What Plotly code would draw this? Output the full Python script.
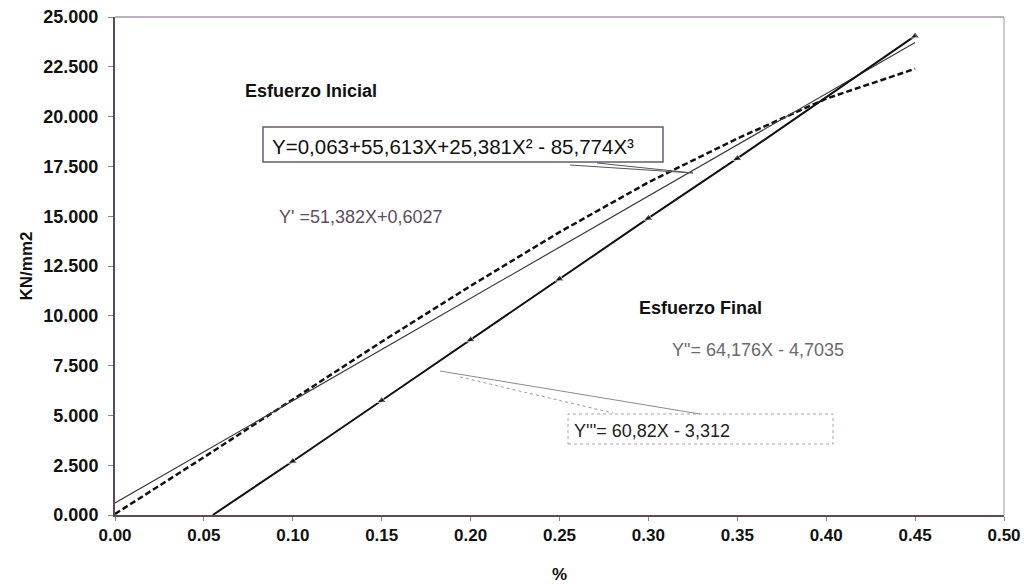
import plotly.graph_objects as go

# ---- data ----
final_x = [0.055, 0.10, 0.15, 0.20, 0.25, 0.30, 0.35, 0.45]
final_y = [0.0, 2.70, 5.75, 8.80, 11.85, 14.90, 17.90, 24.05]

initial_x = [0.00, 0.05, 0.10, 0.15, 0.20, 0.25, 0.30, 0.35, 0.40, 0.45]
initial_y = [0.05, 2.90, 5.80, 8.70, 11.50, 14.20, 16.70, 18.90, 20.90, 22.40]

lin_x = [0.00, 0.45]
lin_y = [0.60, 23.72]

x_ticks = [0.00, 0.05, 0.10, 0.15, 0.20, 0.25, 0.30, 0.35, 0.40, 0.45, 0.50]
y_ticks = [0, 2.5, 5, 7.5, 10, 12.5, 15, 17.5, 20, 22.5, 25]

FONT = "Arial, Liberation Sans, sans-serif"
W, H = 1024, 584
L, R, T, B = 115, 20, 17, 69
PW, PH = W - L - R, H - T - B


def px(x):
    return (x - L) / PW


def py(y):
    return (H - B - y) / PH


fig = go.Figure()

fig.add_trace(go.Scatter(
    x=initial_x, y=initial_y, mode="lines",
    line=dict(color="#111111", width=2.5, dash="6px,3px"),
    showlegend=False))
fig.add_trace(go.Scatter(
    x=lin_x, y=lin_y, mode="lines",
    line=dict(color="#3a3a3a", width=1.2),
    showlegend=False))
fig.add_trace(go.Scatter(
    x=final_x, y=final_y, mode="lines+markers",
    line=dict(color="#111111", width=2),
    marker=dict(symbol="triangle-up", size=[0] + [8] * (len(final_x) - 1),
                color="#111111"),
    showlegend=False))

shapes = []
# plot frame top/right
shapes.append(dict(type="line", xref="paper", yref="paper", x0=0, x1=1, y0=1, y1=1,
                   line=dict(color="#7a6a7a", width=1.2)))
shapes.append(dict(type="line", xref="paper", yref="paper", x0=1, x1=1, y0=0, y1=1,
                   line=dict(color="#9a9a9a", width=1)))
# cubic equation box
shapes.append(dict(type="rect", xref="paper", yref="paper",
                   x0=px(263), x1=px(663), y0=py(162), y1=py(127),
                   line=dict(color="#6a5a6a", width=1.5)))
# its callout pointer
shapes.append(dict(type="line", xref="paper", yref="paper",
                   x0=px(570), y0=py(165), x1=px(693), y1=py(173),
                   line=dict(color="#555555", width=1)))
shapes.append(dict(type="line", xref="paper", yref="paper",
                   x0=px(597), y0=py(163), x1=px(693), y1=py(173),
                   line=dict(color="#555555", width=1)))
# final equation box (faint dashed)
shapes.append(dict(type="rect", xref="paper", yref="paper",
                   x0=px(568), x1=px(833), y0=py(444), y1=py(414),
                   line=dict(color="#b0a0b0", width=1, dash="dot")))
# its callout pointer
shapes.append(dict(type="line", xref="paper", yref="paper",
                   x0=px(440), y0=py(371), x1=px(700), y1=py(414),
                   line=dict(color="#8a8a8a", width=1)))
shapes.append(dict(type="line", xref="paper", yref="paper",
                   x0=px(460), y0=py(377), x1=px(613), y1=py(413),
                   line=dict(color="#9a9a9a", width=1, dash="dot")))

annotations = [
    dict(text="<b>Esfuerzo Inicial</b>", x=px(243), y=py(91), xanchor="left",
         font=dict(size=18, color="#111111")),
    dict(text="Y=0,063+55,613X+25,381X² - 85,774X³", x=px(270), y=py(146),
         xanchor="left", font=dict(size=20.5, color="#111111")),
    dict(text="Y' =51,382X+0,6027", x=px(277), y=py(217), xanchor="left",
         font=dict(size=18, color="#5e4e5e")),
    dict(text="<b>Esfuerzo Final</b>", x=px(637), y=py(308), xanchor="left",
         font=dict(size=18, color="#111111")),
    dict(text="Y\"= 64,176X - 4,7035", x=px(670), y=py(350), xanchor="left",
         font=dict(size=18, color="#6a6a6a")),
    dict(text="Y'''= 60,82X - 3,312", x=px(572), y=py(431), xanchor="left",
         font=dict(size=18, color="#222222")),
]
for a in annotations:
    a.update(xref="paper", yref="paper", yanchor="middle", showarrow=False)
    a["font"]["family"] = FONT

fig.update_layout(
    width=W, height=H,
    margin=dict(l=L, r=R, t=T, b=B, autoexpand=False),
    paper_bgcolor="white", plot_bgcolor="white",
    font=dict(family=FONT, color="#111111"),
    shapes=shapes, annotations=annotations,
    xaxis=dict(range=[0, 0.5], tickvals=x_ticks, tickformat=".2f",
               showgrid=False, zeroline=False, showline=True,
               linecolor="#5a4a5a", linewidth=2,
               ticks="outside", ticklen=4, tickcolor="#888888",
               tickfont=dict(size=17, weight="bold", color="#111111"),
               title=dict(text="<b>%</b>", font=dict(size=17), standoff=24)),
    yaxis=dict(range=[0, 25], tickvals=y_ticks, tickformat=".3f",
               showgrid=False, zeroline=False, showline=True,
               linecolor="#5a4a5a", linewidth=2,
               ticks="outside", ticklen=5, tickcolor="#888888",
               ticklabelstandoff=6,
               tickfont=dict(size=18, weight="bold", color="#111111"),
               title=dict(text="<b>KN/mm2</b>", font=dict(size=17), standoff=6)),
)

fig.write_html(
    "out.html",
    config={"displayModeBar": False},
    post_script="document.body.style.margin='0';document.body.style.overflow='hidden';",
)
